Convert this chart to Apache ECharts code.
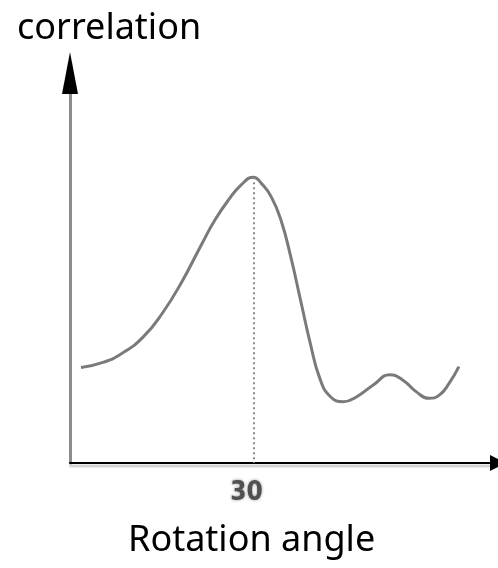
<!DOCTYPE html>
<html>
<head>
<meta charset="utf-8">
<script src="https://cdn.jsdelivr.net/npm/echarts@6/dist/echarts.min.js"></script>
<style>
html,body{margin:0;padding:0;background:#fff;}
#c{width:498px;height:568px;}
</style>
</head>
<body>
<div id="c"></div>
<script>
// Rotation angle (degrees) and correlation (arbitrary units)
var angles = [1.8, 5.4, 8.6, 11.9, 15.1, 18.3, 21.6, 23.7, 25.9, 28.0, 30.0, 31.3, 32.9, 34.5, 36.1, 37.7, 39.3, 40.9, 42.6, 44.7, 46.9, 49.6, 52.3, 54.4, 56.6, 58.7, 60.4, 62.0, 63.6];
var correlation = [0.245, 0.258, 0.282, 0.322, 0.384, 0.465, 0.563, 0.623, 0.674, 0.713, 0.733, 0.717, 0.683, 0.623, 0.529, 0.418, 0.307, 0.215, 0.170, 0.157, 0.170, 0.200, 0.226, 0.213, 0.183, 0.166, 0.174, 0.204, 0.247];
var xTickLabels = [30];
var peakAngle = 30;
var yTitle = 'correlation';
var xTitle = 'Rotation angle';

var points = angles.map(function (a, i) { return [a, correlation[i]]; });
var peakValue = Math.max.apply(null, correlation);

var chart = echarts.init(document.getElementById('c'), null, { renderer: 'canvas' });
chart.setOption({
  animation: false,
  backgroundColor: '#fff',
  title: [
    { text: yTitle, left: 17, top: 11, padding: 0,
      textStyle: { fontFamily: 'Noto Sans', fontSize: 36, fontWeight: 'normal', color: '#000' } },
    { text: xTitle, left: 128, top: 523, padding: 0,
      textStyle: { fontFamily: 'Noto Sans', fontSize: 36, fontWeight: 'normal', color: '#000' } }
  ],
  grid: { left: 70, right: -5, top: 73, bottom: 105, containLabel: false },
  xAxis: {
    type: 'value', min: 0, max: 70,
    axisLine: { show: true, symbol: ['none', 'triangle'], symbolSize: [16, 16],
      lineStyle: { color: '#000', width: 2, shadowColor: 'rgba(0,0,0,0.25)', shadowOffsetY: 3, shadowBlur: 2 } },
    axisTick: { show: false },
    splitLine: { show: false },
    axisLabel: { show: true, customValues: xTickLabels, margin: 17, padding: [0, 14, 0, 0],
      fontFamily: 'DejaVu Sans Condensed', fontSize: 26, fontWeight: 'bold', color: '#505050',
      textShadowColor: 'rgba(90,90,90,0.7)', textShadowBlur: 3 }
  },
  yAxis: [
    { type: 'value', min: 0, max: 1, position: 'left',
      axisLine: { show: true, symbol: 'none', lineStyle: { color: '#8c8c8c', width: 3 } },
      axisTick: { show: false }, axisLabel: { show: false }, splitLine: { show: false } },
    { type: 'value', min: 0, max: 1, position: 'left', offset: 0,
      axisLine: { show: true, symbol: ['none', 'triangle'], symbolSize: [16, 42],
        lineStyle: { color: '#000', width: 0 } },
      axisTick: { show: false }, axisLabel: { show: false }, splitLine: { show: false } }
  ],
  series: [{
    type: 'line',
    data: points,
    smooth: true,
    symbol: 'none',
    yAxisIndex: 0,
    lineStyle: { color: '#7a7a7a', width: 3 },
    markLine: {
      silent: true,
      symbol: ['none', 'none'],
      label: { show: false },
      lineStyle: { color: '#8a8a8a', width: 2, type: [2, 3] },
      data: [[{ coord: [peakAngle, peakValue] }, { coord: [peakAngle, 0] }]]
    }
  }]
});
</script>
</body>
</html>
